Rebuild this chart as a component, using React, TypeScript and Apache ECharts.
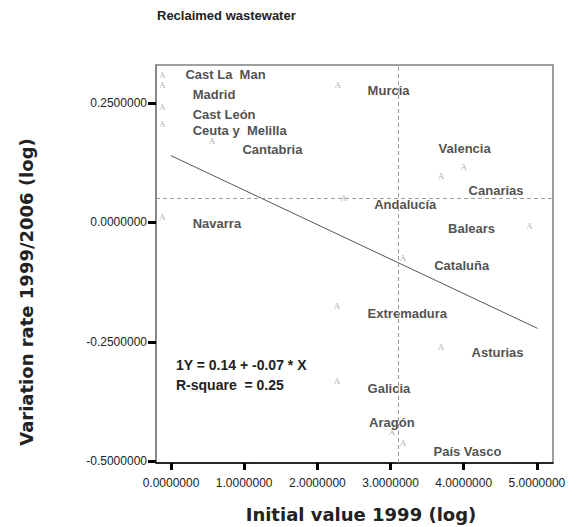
import React, { useEffect, useRef } from "react";
import * as echarts from "echarts";

const xTicks = [0, 1, 2, 3, 4, 5];
const yTicks = [-0.5, -0.25, 0, 0.25];

// observed points (x: initial value 1999 log, y: variation rate log)
const pointX = [-0.12, -0.12, -0.12, -0.12, -0.12, 2.28, 0.56, 3.69, 4.0, 4.9, 2.36, 2.27, 3.17, 3.69, 2.27, 3.02, 3.17];
const pointY = [0.31, 0.289, 0.241, 0.207, 0.0105, 0.289, 0.17, 0.098, 0.117, -0.008, 0.052, -0.176, -0.075, -0.26, -0.333, -0.44, -0.462];

// region labels (placed in data coordinates)
const regionNames = [
  "Cast La  Man", "Madrid", "Cast León", "Ceuta y  Melilla", "Cantabria", "Murcia", "Valencia",
  "Canarias", "Andalucía", "Balears", "Navarra", "Cataluña", "Extremadura", "Asturias",
  "Galicia", "Aragón", "País Vasco",
];
const regionX = [0.19, 0.29, 0.29, 0.29, 0.97, 2.68, 3.65, 4.06, 2.77, 3.78, 0.29, 3.59, 2.68, 4.1, 2.68, 2.7, 3.58];
const regionY = [0.31, 0.268, 0.226, 0.192, 0.153, 0.276, 0.155, 0.067, 0.038, -0.013, -0.002, -0.09, -0.19, -0.272, -0.347, -0.42, -0.479];

// regression line Y = 0.14 - 0.07 X
const fitX = [0, 5.01];
const fitY = [0.14, -0.222];

const meanX = 3.1;
const meanY = 0.046;

const FONT = "Liberation Sans, Arial, sans-serif";
const TITLE_FONT = "DejaVu Sans, Liberation Sans, sans-serif";

export default function App() {
  const ref = useRef<HTMLDivElement>(null);
  useEffect(() => {
    if (!ref.current) return;
    const chart = echarts.init(ref.current, null, { renderer: "svg" });
    chart.setOption({
      animation: false,
      backgroundColor: "#fff",
      grid: {
        left: 156,
        top: 65,
        width: 397,
        height: 398,
        show: true,
        borderColor: "#808080",
        borderWidth: 1.5,
      },
      xAxis: {
        type: "value",
        min: -0.205,
        max: 5.22,
        axisLine: { show: true, onZero: false, lineStyle: { color: "#000", width: 1.5 } },
        axisTick: { show: true, length: 7, customValues: xTicks, lineStyle: { color: "#000", width: 3 } },
        axisLabel: {
          customValues: xTicks,
          margin: 14,
          color: "#222",
          fontSize: 12,
          fontFamily: FONT,
          formatter: (v: number) => v.toFixed(7),
        },
        splitLine: { show: false },
      },
      yAxis: {
        type: "value",
        min: -0.504,
        max: 0.33,
        axisLine: { show: true, onZero: false, lineStyle: { color: "#808080", width: 1.5 } },
        axisTick: { show: true, length: 8, customValues: yTicks, lineStyle: { color: "#000", width: 3 } },
        axisLabel: {
          customValues: yTicks,
          margin: 9,
          color: "#222",
          fontSize: 12,
          fontFamily: FONT,
          formatter: (v: number) => v.toFixed(7),
        },
        splitLine: { show: false },
      },
      series: [
        {
          type: "line",
          data: fitX.map((x, i) => [x, fitY[i]]),
          showSymbol: false,
          symbol: "none",
          lineStyle: { color: "#555", width: 1 },
          silent: true,
          markLine: {
            silent: true,
            symbol: "none",
            label: { show: false },
            lineStyle: { color: "#9a9a9a", width: 1, type: [4, 3] },
            data: [{ xAxis: meanX }, { yAxis: meanY }],
          },
        },
        {
          type: "scatter",
          data: pointX.map((x, i) => [x, pointY[i]]),
          symbolSize: 1,
          itemStyle: { color: "transparent" },
          label: {
            show: true,
            position: "inside",
            formatter: "A",
            color: "#999",
            fontSize: 9,
            fontFamily: "Liberation Serif, serif",
          },
        },
        {
          type: "scatter",
          data: regionX.map((x, i) => ({ value: [x, regionY[i]], name: regionNames[i] })),
          symbolSize: 1,
          itemStyle: { color: "transparent" },
          label: {
            show: true,
            position: "right",
            distance: 0,
            formatter: "{b}",
            color: "#222",
            fontSize: 13,
            fontWeight: "bold",
            fontFamily: FONT,
          },
        },
      ],
      graphic: [
        {
          type: "text",
          x: 157,
          y: 15,
          style: { text: "Reclaimed wastewater", fontSize: 13, fontWeight: "bold", fontFamily: FONT, fill: "#222", verticalAlign: "middle" },
        },
        {
          type: "text",
          x: 176,
          y: 365,
          style: { text: "1Y = 0.14 + -0.07 * X", fontSize: 14, fontWeight: "bold", fontFamily: FONT, fill: "#222", verticalAlign: "middle" },
        },
        {
          type: "text",
          x: 176,
          y: 385,
          style: { text: "R-square  = 0.25", fontSize: 14, fontWeight: "bold", fontFamily: FONT, fill: "#222", verticalAlign: "middle" },
        },
        {
          type: "text",
          x: 361,
          y: 514,
          style: { text: "Initial value 1999 (log)", fontSize: 18, fontWeight: "bold", fontFamily: TITLE_FONT, fill: "#222", align: "center", verticalAlign: "middle" },
        },
        {
          type: "text",
          x: 26,
          y: 292,
          rotation: Math.PI / 2,
          style: { text: "Variation rate 1999/2006 (log)", fontSize: 18, fontWeight: "bold", fontFamily: TITLE_FONT, fill: "#222", align: "center", verticalAlign: "middle" },
        },
      ],
    });
    return () => chart.dispose();
  }, []);
  return <div ref={ref} style={{ width: 571, height: 527, position: "absolute", left: 0, top: 0 }} />;
}
